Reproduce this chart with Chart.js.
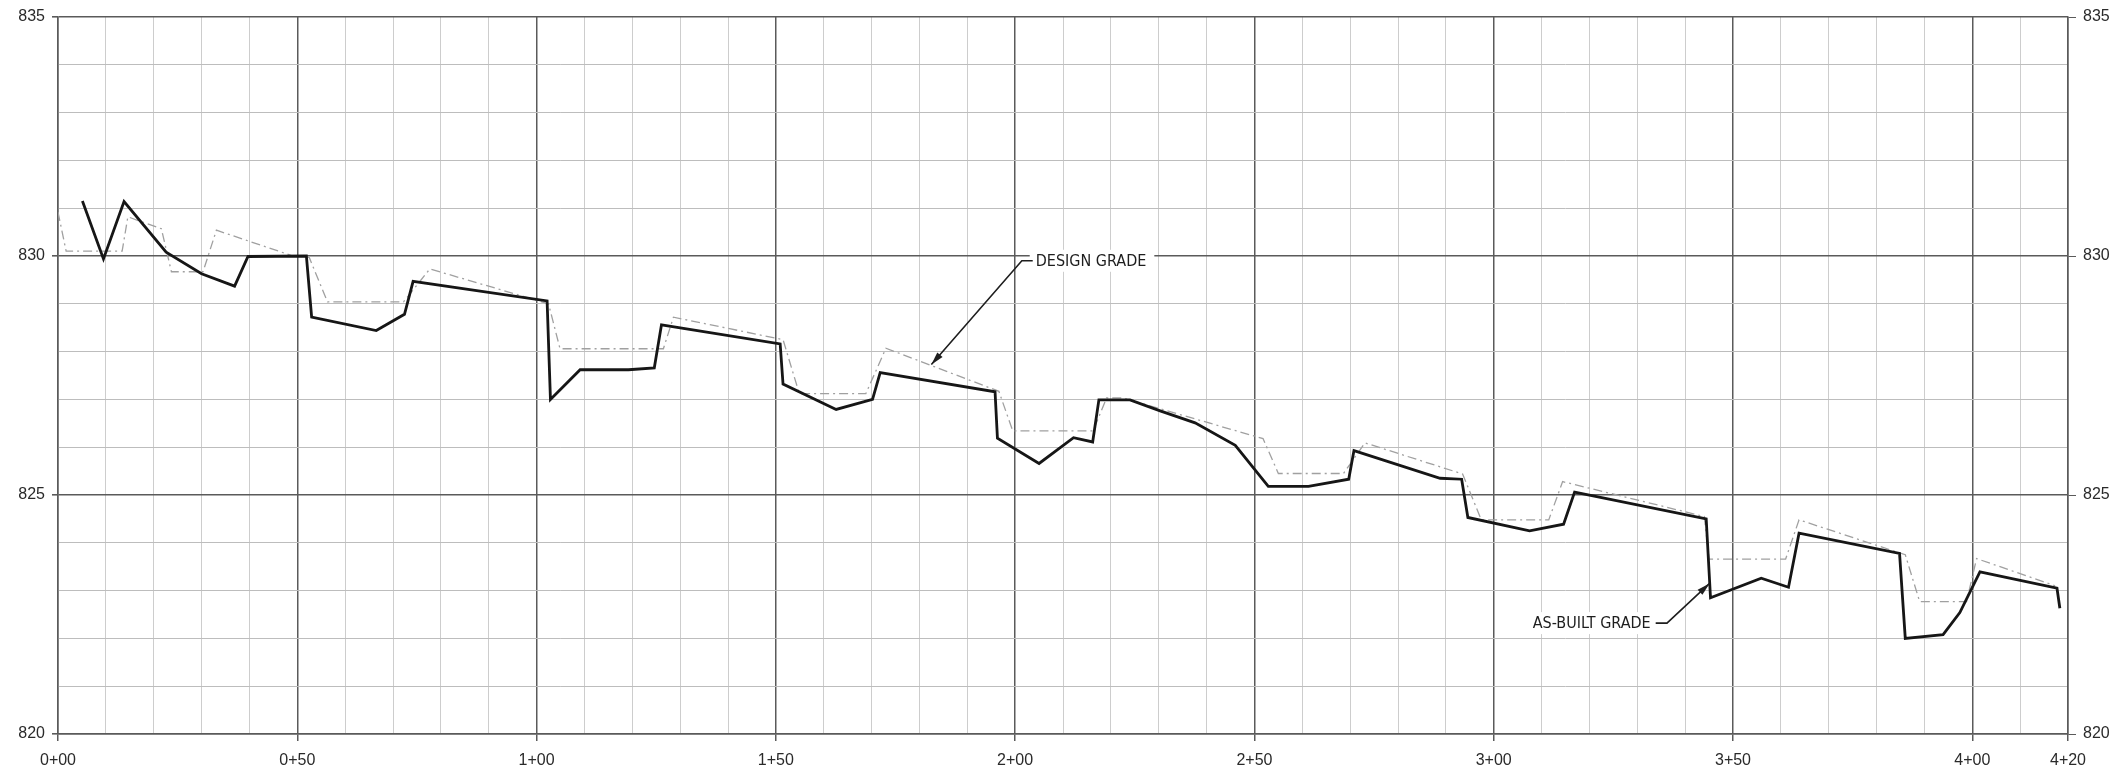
<!DOCTYPE html>
<html>
<head>
<meta charset="utf-8">
<script src="https://cdn.jsdelivr.net/npm/chart.js@4"></script>
<style>
  html, body { margin: 0; padding: 0; background: #fff; }
  #wrap { width: 2116px; height: 772px; }
</style>
</head>
<body>
<div id="wrap"><canvas id="profile" width="2116" height="772"></canvas></div>
<script>
// station (ft) and elevation of the as-built profile
const asBuiltSta = [5.1, 9.5, 13.8, 22.6, 30.0, 36.9, 39.7, 51.9, 53.0, 66.5, 72.4, 74.2, 102.2, 102.9, 109.1,
    119.2, 124.6, 126.1, 150.9, 151.5, 162.6, 170.2, 171.8, 195.8, 196.3, 205.0, 212.2, 216.2, 217.5, 224.0,
    230.3, 237.6, 246.0, 252.9, 261.3, 269.7, 270.8, 288.8, 293.3, 294.6, 307.5, 314.6, 316.9, 344.4, 345.3,
    355.9, 361.6, 363.8, 384.8, 386.0, 393.9, 397.4, 401.6, 417.7, 418.3];
const asBuiltElev = [831.15, 829.94, 831.14, 830.08, 829.63, 829.37, 829.99, 830.0, 828.72, 828.44, 828.78, 829.47, 829.06, 827.0, 827.62,
    827.62, 827.66, 828.56, 828.16, 827.32, 826.79, 827.0, 827.56, 827.16, 826.19, 825.66, 826.2, 826.11, 826.99, 826.99,
    826.76, 826.51, 826.04, 825.18, 825.18, 825.33, 825.93, 825.35, 825.33, 824.53, 824.25, 824.39, 825.06, 824.5, 822.85,
    823.26, 823.07, 824.2, 823.78, 822.0, 822.08, 822.54, 823.39, 823.05, 822.63];

// design profile
const designSta = [0, 1.7, 13.4, 14.6, 21.6, 23.7, 30.3, 33.1, 48.8, 52.5, 56.3, 72.2, 77.7, 102.5, 104.9,
    126.5, 128.6, 151.5, 154.9, 168.8, 173.0, 196.6, 199.5, 216.3, 219.1, 222.5, 251.8, 255.0, 268.6, 273.1,
    293.5, 297.4, 311.5, 314.4, 344.0, 345.0, 361.0, 363.8, 386.0, 389.0, 398.8, 400.9, 417.3];
const designElev = [830.92, 830.1, 830.1, 830.82, 830.57, 829.67, 829.67, 830.54, 830.01, 829.97, 829.04, 829.04, 829.73, 829.0, 828.06,
    828.06, 828.72, 828.25, 827.12, 827.12, 828.07, 827.17, 826.34, 826.34, 827.03, 827.03, 826.18, 825.45, 825.45, 826.09,
    825.44, 824.48, 824.48, 825.28, 824.55, 823.66, 823.66, 824.48, 823.75, 822.77, 822.77, 823.67, 823.1];

// labelled ticks
const stationLabels = [0, 50, 100, 150, 200, 250, 300, 350, 400, 420];
const elevLabels = [820, 825, 830, 835];

// callouts (data units)
const callouts = [
    { text: 'DESIGN GRADE', at: [204.3, 829.9], side: 'left', elbow: [201.4, 829.9], tip: [182.5, 827.73] },
    { text: 'AS-BUILT GRADE', at: [332.8, 822.32], side: 'right', elbow: [336.2, 822.32], tip: [345.1, 823.15] }
];

const fmtStation = v => Math.floor(v / 100) + '+' + String(v % 100).padStart(2, '0');
const MAJOR = '#5a5a5a', MINOR_X = '#cdcdcd', MINOR_Y = '#bdbdbd';

const calloutPlugin = {
    id: 'callouts',
    afterDatasetsDraw(chart) {
        const { ctx, scales: { x, y } } = chart;
        ctx.save();
        ctx.font = "16px 'DejaVu Sans Condensed', 'DejaVu Sans'";
        ctx.textBaseline = 'middle';
        callouts.forEach(c => {
            const tx = x.getPixelForValue(c.at[0]), ty = y.getPixelForValue(c.at[1]);
            const w = ctx.measureText(c.text).width;
            const left = c.side === 'left' ? tx : tx - w;
            ctx.fillStyle = '#fff';
            ctx.fillRect(left - 6, ty - 11, w + 14, 22);
            ctx.fillStyle = '#1e1e1e';
            ctx.textAlign = 'left';
            ctx.fillText(c.text, left, ty + 1);

            const ex = x.getPixelForValue(c.elbow[0]), ey = y.getPixelForValue(c.elbow[1]);
            const px = x.getPixelForValue(c.tip[0]), py = y.getPixelForValue(c.tip[1]);
            ctx.strokeStyle = '#1e1e1e';
            ctx.lineWidth = 1.6;
            ctx.beginPath();
            if (c.side === 'left') ctx.moveTo(tx - 3, ey); else ctx.moveTo(tx + 5, ey);
            ctx.lineTo(ex, ey);
            ctx.lineTo(px, py);
            ctx.stroke();
            // arrow head
            const a = Math.atan2(py - ey, px - ex);
            ctx.fillStyle = '#1e1e1e';
            ctx.beginPath();
            ctx.moveTo(px, py);
            ctx.lineTo(px - 13 * Math.cos(a) + 3.5 * Math.sin(a), py - 13 * Math.sin(a) - 3.5 * Math.cos(a));
            ctx.lineTo(px - 13 * Math.cos(a) - 3.5 * Math.sin(a), py - 13 * Math.sin(a) + 3.5 * Math.cos(a));
            ctx.closePath();
            ctx.fill();
        });
        ctx.restore();
    }
};

Chart.defaults.font.family = "'Liberation Sans', Arial, sans-serif";
Chart.defaults.font.size = 16;
Chart.defaults.color = '#2a2a2a';

new Chart(document.getElementById('profile'), {
    type: 'line',
    data: {
        datasets: [
            {
                label: 'As-built grade',
                data: asBuiltSta.map((s, i) => ({ x: s, y: asBuiltElev[i] })),
                borderColor: '#161616',
                borderWidth: 2.8,
                pointRadius: 0,
                tension: 0,
                yAxisID: 'y'
            },
            {
                label: 'Design grade',
                data: designSta.map((s, i) => ({ x: s, y: designElev[i] })),
                borderColor: '#a0a0a0',
                borderWidth: 1.3,
                borderDash: [9, 4, 2, 4],
                pointRadius: 0,
                tension: 0,
                yAxisID: 'y'
            }
        ]
    },
    options: {
        responsive: false,
        animation: false,
        events: [],
        layout: { padding: { top: 17, left: 0, right: 0, bottom: 0 } },
        plugins: { legend: { display: false }, tooltip: { enabled: false } },
        scales: {
            x: {
                type: 'linear', min: 0, max: 420,
                afterFit: s => { s.height = 38; },
                ticks: {
                    stepSize: 10, autoSkip: false, maxRotation: 0, padding: 10,
                    callback: v => stationLabels.includes(v) ? fmtStation(v) : ''
                },
                grid: {
                    color: c => (c.tick && (c.tick.value % 50 === 0 || c.tick.value === 420)) ? MAJOR : MINOR_X,
                    lineWidth: c => (c.tick && (c.tick.value % 50 === 0 || c.tick.value === 420)) ? 1.5 : 1,
                    tickColor: c => (c.tick && stationLabels.includes(c.tick.value)) ? MAJOR : 'rgba(0,0,0,0)',
                    tickLength: 7
                },
                border: { color: MAJOR, width: 1.5 }
            },
            y: {
                type: 'linear', position: 'left', min: 820, max: 835,
                afterFit: s => { s.width = 58; },
                ticks: {
                    stepSize: 1, autoSkip: false, padding: 7,
                    callback: v => elevLabels.includes(v) ? String(v) : ''
                },
                grid: {
                    color: c => (c.tick && c.tick.value % 5 === 0) ? MAJOR : MINOR_Y,
                    lineWidth: c => (c.tick && c.tick.value % 5 === 0) ? 1.6 : 1,
                    tickColor: c => (c.tick && elevLabels.includes(c.tick.value)) ? MAJOR : 'rgba(0,0,0,0)',
                    tickLength: 6
                },
                border: { color: MAJOR, width: 1.5 }
            },
            y2: {
                type: 'linear', position: 'right', min: 820, max: 835,
                afterFit: s => { s.width = 48; },
                ticks: {
                    stepSize: 1, autoSkip: false, padding: 7,
                    callback: v => elevLabels.includes(v) ? String(v) : ''
                },
                grid: {
                    drawOnChartArea: false,
                    color: c => (c.tick && elevLabels.includes(c.tick.value)) ? MAJOR : 'rgba(0,0,0,0)',
                    tickLength: 8
                },
                border: { color: MAJOR, width: 1.5 }
            }
        }
    },
    plugins: [calloutPlugin]
});
</script>
</body>
</html>
